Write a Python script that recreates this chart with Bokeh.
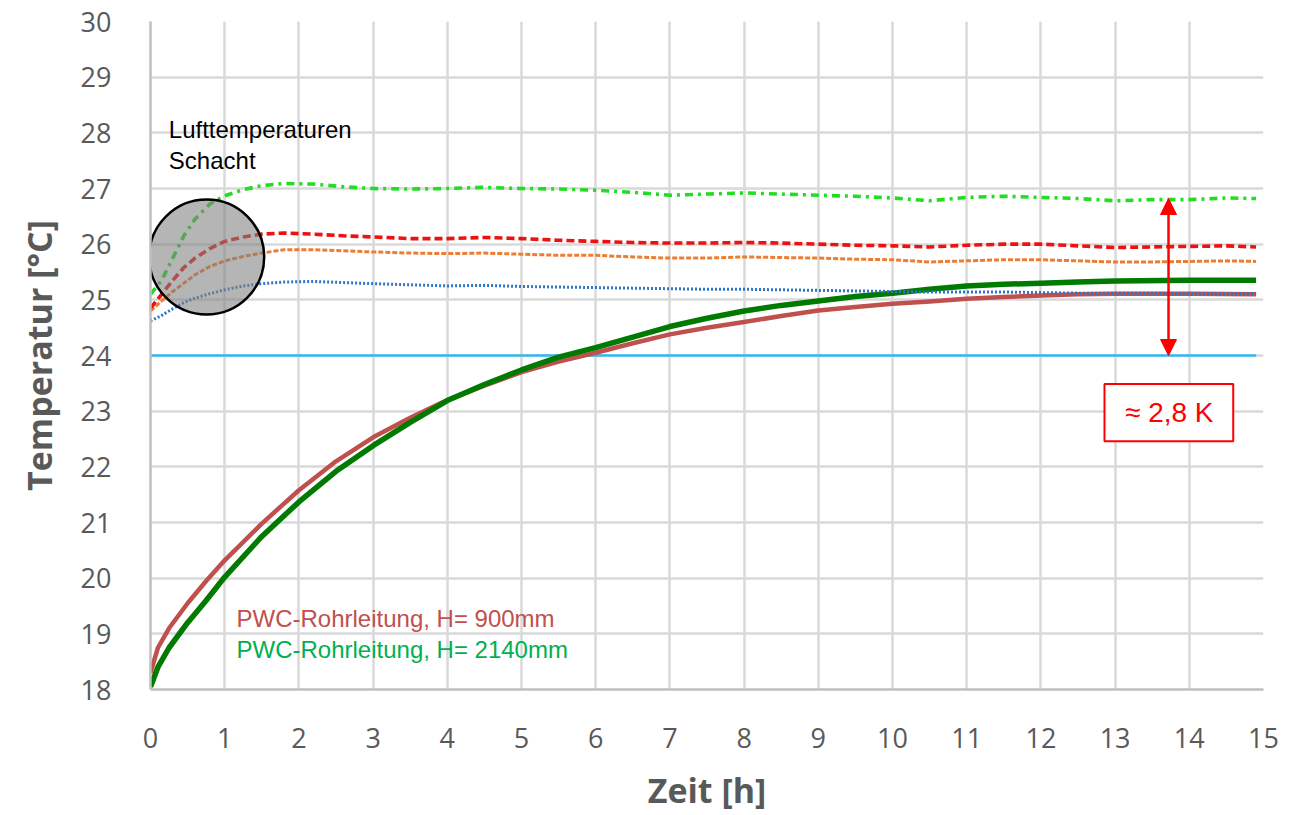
from bokeh.plotting import figure
from bokeh.models import Range1d, FixedTicker, Arrow, NormalHead, Label, BoxAnnotation
from bokeh.embed import file_html
from bokeh.resources import INLINE

# ---------------- data ----------------
t_air = [0, 0.15, 0.3, 0.45, 0.6, 0.8, 1.0, 1.25, 1.5, 1.8, 2.2, 2.6, 3.0, 3.5, 4.0, 4.5,
         5.0, 5.5, 6.0, 6.5, 7.0, 7.5, 8.0, 8.5, 9.0, 9.5, 10.0, 10.5, 11.0, 11.5, 12.0,
         12.5, 13.0, 13.5, 14.0, 14.5, 14.9]
air_green = [25.1, 25.35, 25.75, 26.15, 26.45, 26.72, 26.87, 26.98, 27.05, 27.09, 27.08, 27.03,
             27.0, 26.99, 27.0, 27.02, 27.0, 26.99, 26.97, 26.93, 26.88, 26.9, 26.92, 26.9,
             26.88, 26.86, 26.83, 26.78, 26.84, 26.86, 26.84, 26.82, 26.78, 26.8, 26.8, 26.83, 26.82]
air_red = [24.85, 25.1, 25.35, 25.58, 25.75, 25.92, 26.05, 26.13, 26.18, 26.2, 26.18, 26.15,
           26.13, 26.1, 26.1, 26.12, 26.1, 26.07, 26.05, 26.03, 26.02, 26.02, 26.03, 26.02,
           26.0, 25.98, 25.97, 25.95, 25.98, 26.0, 26.0, 25.97, 25.94, 25.95, 25.96, 25.97, 25.95]
air_orange = [24.8, 24.98, 25.15, 25.3, 25.45, 25.6, 25.7, 25.78, 25.84, 25.9, 25.9, 25.88,
              25.86, 25.84, 25.83, 25.84, 25.82, 25.8, 25.8, 25.77, 25.75, 25.75, 25.77, 25.76,
              25.75, 25.73, 25.72, 25.68, 25.7, 25.72, 25.72, 25.7, 25.68, 25.68, 25.69, 25.7, 25.69]
air_blue = [24.62, 24.72, 24.84, 24.95, 25.03, 25.11, 25.18, 25.25, 25.29, 25.32, 25.33, 25.31,
            25.29, 25.27, 25.25, 25.26, 25.24, 25.23, 25.22, 25.21, 25.2, 25.19, 25.19, 25.18,
            25.17, 25.16, 25.15, 25.14, 25.14, 25.14, 25.13, 25.12, 25.12, 25.12, 25.11, 25.11, 25.11]

t_pipe = [0, 0.1, 0.25, 0.5, 0.75, 1, 1.5, 2, 2.5, 3, 3.5, 4, 4.5, 5, 5.5, 6, 6.5, 7, 7.5, 8,
          8.5, 9, 9.5, 10, 10.5, 11, 11.5, 12, 12.5, 13, 14, 14.9]
pipe_900 = [18.3, 18.75, 19.1, 19.55, 19.95, 20.32, 20.98, 21.58, 22.1, 22.53, 22.88, 23.2,
            23.46, 23.7, 23.89, 24.05, 24.22, 24.38, 24.5, 24.6, 24.71, 24.81, 24.87, 24.93,
            24.97, 25.02, 25.05, 25.08, 25.1, 25.11, 25.11, 25.1]
pipe_2140 = [18.05, 18.4, 18.75, 19.2, 19.6, 20.02, 20.75, 21.37, 21.92, 22.38, 22.8, 23.19,
             23.48, 23.74, 23.97, 24.14, 24.33, 24.52, 24.67, 24.8, 24.9, 24.98, 25.06, 25.12,
             25.19, 25.25, 25.28, 25.3, 25.32, 25.34, 25.35, 25.35]

ref_t = [0, 14.9]
ref_T = [24.0, 24.0]

x_ticks = list(range(0, 16))
y_ticks = list(range(18, 31))

label_900 = "PWC-Rohrleitung, H= 900mm"
label_2140 = "PWC-Rohrleitung, H= 2140mm"
note_air = ["Lufttemperaturen", "Schacht"]
delta_text = "\u2248 2,8 K"
delta_x = 13.72
delta_from = 24.0
delta_to = 26.82

# ---------------- figure ----------------
p = figure(width=1301, height=815, output_backend="svg", toolbar_location=None,
           x_range=Range1d(0, 15), y_range=Range1d(18, 30),
           min_border_left=150, min_border_right=38, min_border_top=21, min_border_bottom=126)
p.outline_line_color = None
p.background_fill_color = "white"
p.border_fill_color = "white"

p.xaxis.ticker = FixedTicker(ticks=x_ticks)
p.yaxis.ticker = FixedTicker(ticks=y_ticks)
for ax in (p.xaxis[0], p.yaxis[0]):
    ax.major_tick_line_color = None
    ax.minor_tick_line_color = None
    ax.axis_line_color = "#bfbfbf"
    ax.axis_line_width = 2.5
    ax.major_label_text_font = "Open Sans"
    ax.major_label_text_font_size = "27px"
    ax.major_label_text_color = "#595959"
    ax.axis_label_text_font = "Open Sans"
    ax.axis_label_text_font_style = "bold"
    ax.axis_label_text_font_size = "34px"
    ax.axis_label_text_color = "#595959"
p.xaxis.axis_label = "Zeit [h]"
p.yaxis.axis_label = "Temperatur [\u00b0C]"
p.xaxis.major_label_standoff = 32
p.yaxis.major_label_standoff = 33
p.xaxis.axis_label_standoff = 16
p.yaxis.axis_label_standoff = 16

p.grid.grid_line_color = "#d9d9d9"
p.grid.grid_line_width = 2.5

# reference line 24 °C
p.line(ref_t, ref_T, line_color="#35b8f0", line_width=2.5)

# pipe temperatures
p.line(t_pipe, pipe_900, line_color="#c0504d", line_width=4.5, line_join="round")
p.line(t_pipe, pipe_2140, line_color="#007a00", line_width=5.5, line_join="round")

# air temperatures
p.line(t_air, air_blue, line_color="#2e75c6", line_width=3, line_dash="2 2")
p.line(t_air, air_orange, line_color="#ed7d31", line_width=3, line_dash="5 2")
p.line(t_air, air_red, line_color="#ee1111", line_width=3.6, line_dash="8 4")
p.line(t_air, air_green, line_color="#22dd22", line_width=3.6, line_dash="8 5 3 5")

# highlight circle
p.scatter([0.757], [25.77], size=115, marker="circle", fill_color="#7f7f7f", fill_alpha=0.58,
          line_color="black", line_width=2.5)

# texts
p.add_layout(Label(x=0.247, y=28.06, text=note_air[0], text_font="Liberation Sans",
                   text_font_size="24px", text_color="black", text_baseline="alphabetic"))
p.add_layout(Label(x=0.247, y=27.5, text=note_air[1], text_font="Liberation Sans",
                   text_font_size="24px", text_color="black", text_baseline="alphabetic"))
p.add_layout(Label(x=1.159, y=19.27, text=label_900, text_font="Liberation Sans",
                   text_font_size="24px", text_color="#c0504d", text_baseline="alphabetic"))
p.add_layout(Label(x=1.159, y=18.71, text=label_2140, text_font="Liberation Sans",
                   text_font_size="24px", text_color="#00b050", text_baseline="alphabetic"))

# delta arrow and box
p.add_layout(Arrow(x_start=delta_x, y_start=delta_from, x_end=delta_x, y_end=delta_to,
                   line_color="#ff0000", line_width=2.5,
                   start=NormalHead(size=16, fill_color="#ff0000", line_color="#ff0000"),
                   end=NormalHead(size=16, fill_color="#ff0000", line_color="#ff0000")))
p.add_layout(BoxAnnotation(left=12.857, right=14.592, top=23.49, bottom=22.46,
                           fill_color="white", fill_alpha=1.0,
                           line_color="#ff0000", line_alpha=1.0, line_width=2))
p.add_layout(Label(x=13.73, y=22.98, text=delta_text, text_font="Liberation Sans",
                   text_font_size="28px", text_color="#ff0000", text_align="center",
                   text_baseline="alphabetic"))

open("out.html", "w").write(file_html(p, INLINE))
